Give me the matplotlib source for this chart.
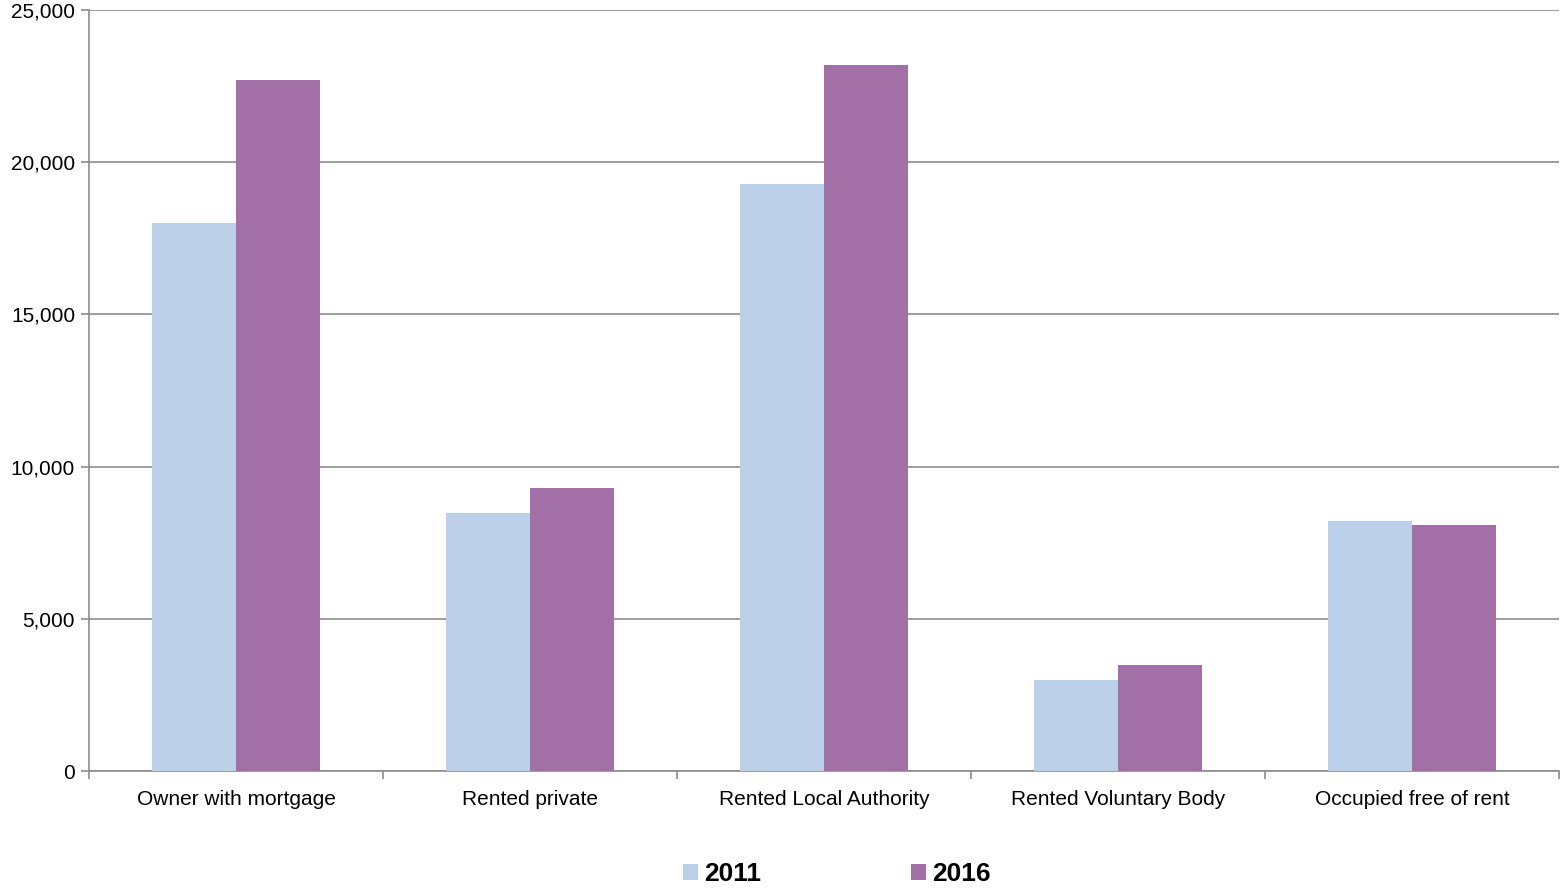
import numpy as np
import matplotlib.pyplot as plt
from matplotlib.ticker import FuncFormatter

plt.rcParams['font.family'] = ['Liberation Sans', 'DejaVu Sans']

categories = ['Owner with mortgage', 'Rented private', 'Rented Local Authority',
              'Rented Voluntary Body', 'Occupied free of rent']
vals_2011 = [18000, 8480, 19280, 2990, 8210]
vals_2016 = [22700, 9300, 23190, 3480, 8080]

c2011 = '#bdd0ea'
c2016 = '#a270a6'
grid_col = '#8c8c8c'

fig = plt.figure(figsize=(15.61, 8.89), dpi=100)
ax = fig.add_axes([0.057, 0.1327, 0.9417, 0.8561])

x = np.arange(len(categories))
w = 0.286
ax.bar(x - w/2, vals_2011, w, color=c2011, label='2011', zorder=3)
ax.bar(x + w/2, vals_2016, w, color=c2016, label='2016', zorder=3)

ax.set_xlim(-0.5, len(categories) - 0.5)
ax.set_ylim(0, 25000)
ax.set_yticks(np.arange(0, 25001, 5000))
ax.yaxis.set_major_formatter(FuncFormatter(lambda v, p: f'{int(v):,}'))
ax.yaxis.grid(True, color=grid_col, linewidth=1.2, zorder=0)

# category labels centred, tick marks between groups
ax.set_xticks(x)
ax.set_xticklabels(categories, fontsize=15)
ax.tick_params(axis='x', length=0, pad=14)
ax.set_xticks(np.arange(-0.5, len(categories)), minor=True)
ax.tick_params(axis='x', which='minor', length=6, color=grid_col, width=1.2)
ax.tick_params(axis='y', length=6, color=grid_col, width=1.2, labelsize=15, pad=4)

for s in ['top', 'right']:
    ax.spines[s].set_visible(False)
for s in ['left', 'bottom']:
    ax.spines[s].set_color(grid_col)
    ax.spines[s].set_linewidth(1.2)

leg = fig.legend(loc='center', bbox_to_anchor=(0.536, 0.017), ncol=2, frameon=False,
                 prop={'weight': 'bold', 'size': 19}, handlelength=0.55, handleheight=0.55,
                 handletextpad=0.23, columnspacing=5.7)

fig.savefig('out.png', dpi=100)
